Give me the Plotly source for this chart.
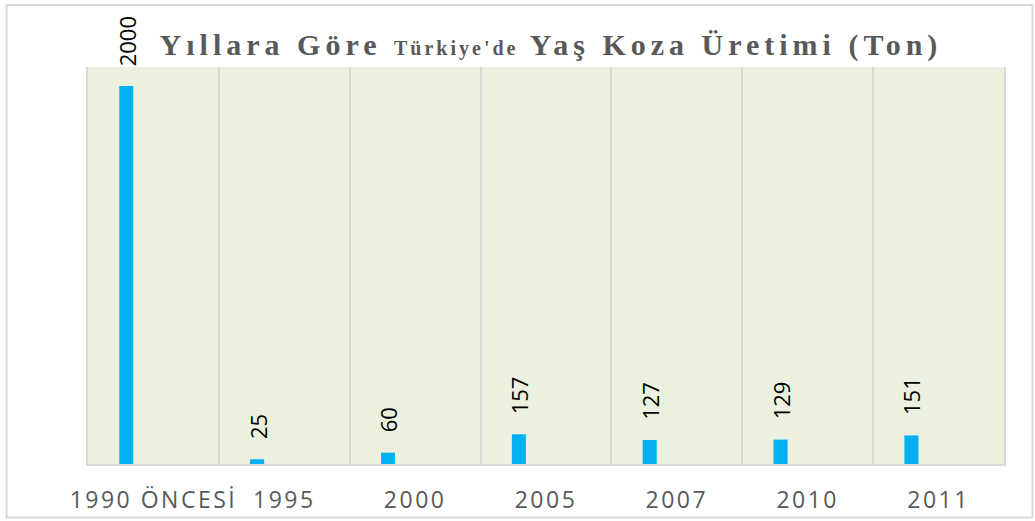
import plotly.graph_objects as go

categories = ["1990 ÖNCESİ", "1995", "2000", "2005", "2007", "2010", "2011"]
production_ton = [2000, 25, 60, 157, 127, 129, 151]
title_main_1 = "Yıllara Göre "
title_small = "Türkiye'de"
title_main_2 = " Yaş Koza Üretimi (Ton)"

BAR = "#00B0F0"
GRID = "#D9D9D9"
TXT = "#595959"

pos = list(range(len(categories)))
bounds = [p - 0.5 for p in pos] + [pos[-1] + 0.5]

fig = go.Figure()
fig.add_trace(go.Bar(
    x=pos, y=production_ton,
    marker=dict(color=BAR, line=dict(width=0)),
    width=0.107, offset=-0.261,
    customdata=categories,
    hovertemplate="%{customdata}: %{y}<extra></extra>",
))

for p, v in zip(pos, production_ton):
    fig.add_annotation(
        x=p, y=v, xref="x", yref="y",
        text=str(v), showarrow=False, textangle=-90,
        yanchor="bottom", xanchor="center", yshift=18, xshift=-27,
        font=dict(family="Open Sans", size=22, color="#000000"),
    )

ticktext = ['<span style="letter-spacing:2.5px">%s</span>' % c for c in categories]

title_html = (
    '<b><span style="letter-spacing:5px">%s</span>'
    '<span style="font-size:20px;letter-spacing:3px">%s</span>'
    '<span style="letter-spacing:5px">%s</span></b>'
) % (title_main_1, title_small, title_main_2)

fig.update_layout(
    width=1035, height=521,
    margin=dict(l=87.5, r=30.5, t=67, b=56.5, pad=0),
    paper_bgcolor="#FFFFFF",
    plot_bgcolor="#EBF1DE",
    showlegend=False,
    title=dict(
        text=title_html, x=0.5 + 5 / 917, xref="paper", xanchor="center",
        y=1 - 44 / 521, yref="container", yanchor="middle",
        font=dict(family="Liberation Serif", size=30, color=TXT),
    ),
    xaxis=dict(
        range=[-0.5, len(categories) - 0.5],
        tickmode="array", tickvals=pos, ticktext=ticktext, tickangle=0,
        showgrid=False, zeroline=False,
        minor=dict(tickmode="array", tickvals=bounds, showgrid=True,
                   gridcolor=GRID, gridwidth=2, ticks=""),
        showline=True, linecolor=GRID, linewidth=2,
        ticks="", ticklabelstandoff=14, automargin=False,
        tickfont=dict(family="Open Sans", size=23, color=TXT),
        fixedrange=True,
    ),
    yaxis=dict(
        range=[0, 2100], showgrid=False, zeroline=False,
        showticklabels=False, ticks="", automargin=False,
        showline=True, mirror=True, linecolor=GRID, linewidth=2,
        fixedrange=True,
    ),
    shapes=[dict(
        type="rect", xref="paper", yref="paper",
        x0=(6 - 87.5) / 917, x1=(1033 - 87.5) / 917,
        y0=(464.5 - 518) / 397.5, y1=(464.5 - 5) / 397.5,
        line=dict(color=GRID, width=2), fillcolor="rgba(0,0,0,0)",
        layer="below",
    )],
)

fig.write_html(
    "out.html",
    config={"displayModeBar": False},
    post_script="document.body.style.margin='0';document.body.style.overflow='hidden';",
)
